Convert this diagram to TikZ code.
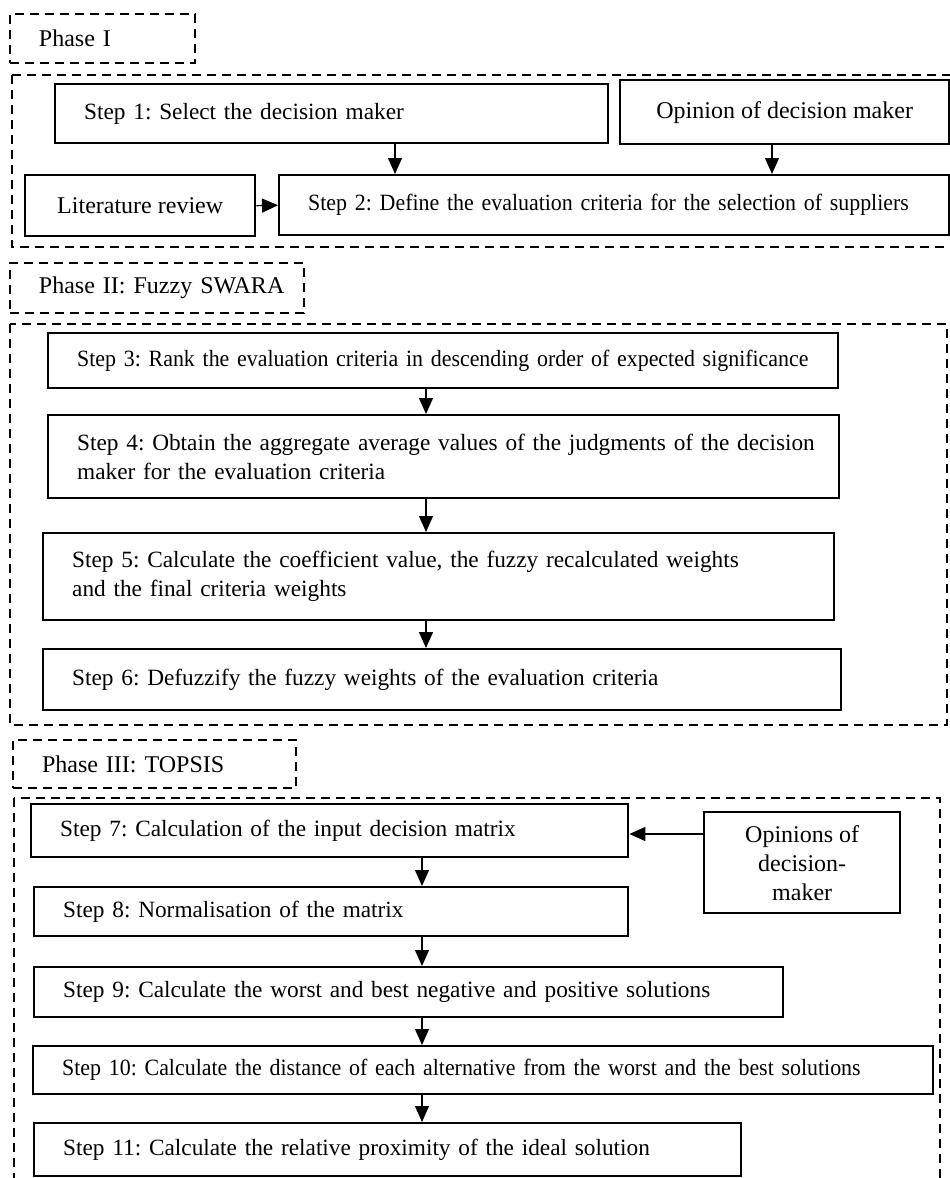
\documentclass[tikz,border=0pt]{standalone}
\usepackage{fontspec}
\setmainfont{Liberation Serif}
\newfontfamily\narrowserif[FakeStretch=0.94]{Liberation Serif}
\usetikzlibrary{arrows.meta}

\begin{document}
\begin{tikzpicture}[
  x=0.5pt, y=-0.5pt,
  font=\fontsize{12pt}{14.5pt}\selectfont\frenchspacing,
  stepbox/.style={draw, line width=1.2pt, anchor=north west, align=left,
    inner xsep=0pt, inner ysep=0pt,
    font=\fontsize{11.65pt}{14.5pt}\selectfont\frenchspacing,
    execute at begin node={\raggedright\leftskip=14.5pt}},
  longstep/.style={stepbox, font=\narrowserif\fontsize{11.65pt}{14.5pt}\selectfont\frenchspacing},
  srcbox/.style={draw, line width=1.2pt, anchor=north west, align=center,
    inner sep=0pt},
  phaselabel/.style={draw, dash pattern=on 4.5pt off 3pt, line width=1pt,
    anchor=north west, align=left, inner xsep=0pt, inner ysep=0pt,
    execute at begin node={\raggedright\leftskip=14.5pt}},
  phaseframe/.style={draw, dash pattern=on 4.5pt off 3pt, line width=1pt},
  arr/.style={-{Triangle[length=8pt, width=7pt]}, line width=0.6pt}
]
\useasboundingbox (0,0) rectangle (949,1178);

% Phase I
\node[phaselabel, text width=92.5pt, minimum height=24.5pt] (ph1) at (9,13) {Phase I};
\draw[phaseframe] (12,75) rectangle (962,247);
\node[stepbox, text width=276.5pt, minimum height=29.5pt] (step1) at (54,83) {Step 1: Select the decision maker};
\node[srcbox, minimum width=164.5pt, minimum height=32pt] (opin) at (619,79) {Opinion of decision maker};
\node[srcbox, minimum width=115pt, minimum height=30.5pt] (lit) at (24,174) {Literature review};
\node[longstep, text width=335pt, minimum height=30pt] (step2) at (278,174) {Step 2: Define the evaluation criteria for the selection of suppliers};

\coordinate (a1) at (395,0);
\coordinate (a2) at (772,0);
\draw[arr] (step1.south -| a1) -- (step2.north -| a1);
\draw[arr] (opin.south -| a2) -- (step2.north -| a2);
\draw[arr] (lit.east) -- (step2.west);

% Phase II
\node[phaselabel, text width=147pt, minimum height=25pt] (ph2) at (9,262) {Phase II: Fuzzy SWARA};
\draw[phaseframe] (10,324) rectangle (947,725);
\node[longstep, text width=395pt, minimum height=27.5pt] (step3) at (47,332) {Step 3: Rank the evaluation criteria in descending order of expected significance};
\node[stepbox, text width=395.5pt, minimum height=41.5pt] (step4) at (47,414) {Step 4: Obtain the aggregate average values of the judgments of the decision\\maker for the evaluation criteria};
\node[stepbox, text width=395.5pt, minimum height=43.5pt] (step5) at (42,532) {Step 5: Calculate the coefficient value, the fuzzy recalculated weights\\and the final criteria weights};
\node[stepbox, text width=399pt, minimum height=30.5pt] (step6) at (42,648) {Step 6: Defuzzify the fuzzy weights of the evaluation criteria};

\coordinate (a3) at (426,0);
\draw[arr] (step3.south -| a3) -- (step4.north -| a3);
\draw[arr] (step4.south -| a3) -- (step5.north -| a3);
\draw[arr] (step5.south -| a3) -- (step6.north -| a3);

% Phase III
\node[phaselabel, text width=141.5pt, minimum height=24pt] (ph3) at (12,739) {Phase III: TOPSIS};
\draw[phaseframe] (14,798) rectangle (940,1200);
\node[stepbox, text width=298.5pt, minimum height=26.5pt] (step7) at (30,803) {Step 7: Calculation of the input decision matrix};
\node[srcbox, minimum width=98pt, minimum height=50.5pt] (opins) at (703,811) {Opinions of\\decision-\\maker};
\node[stepbox, text width=297pt, minimum height=24.5pt] (step8) at (33,886) {Step 8: Normalisation of the matrix};
\node[stepbox, text width=374.5pt, minimum height=25pt] (step9) at (33,966) {Step 9: Calculate the worst and best negative and positive solutions};
\node[longstep, text width=450pt, minimum height=24pt] (step10) at (32,1045) {Step 10: Calculate the distance of each alternative from the worst and the best solutions};
\node[stepbox, text width=353.5pt, minimum height=26.5pt] (step11) at (33,1122) {Step 11: Calculate the relative proximity of the ideal solution};

\coordinate (a4) at (422,0);
\coordinate (o7) at (0,834);
\draw[arr] (opins.west |- o7) -- (step7.east |- o7);
\draw[arr] (step7.south -| a4) -- (step8.north -| a4);
\draw[arr] (step8.south -| a4) -- (step9.north -| a4);
\draw[arr] (step9.south -| a4) -- (step10.north -| a4);
\draw[arr] (step10.south -| a4) -- (step11.north -| a4);

\end{tikzpicture}
\end{document}
